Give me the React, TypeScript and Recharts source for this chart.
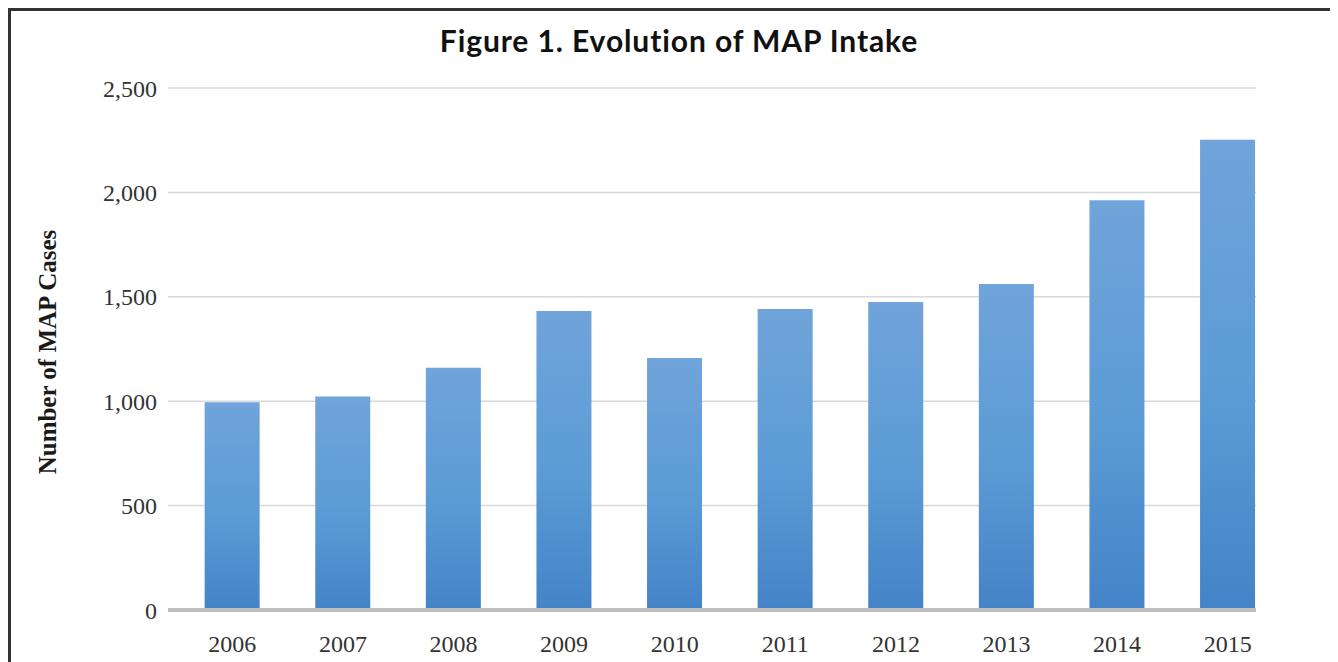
import { BarChart, Bar, XAxis, YAxis, CartesianGrid } from "recharts";

const years = ["2006", "2007", "2008", "2009", "2010", "2011", "2012", "2013", "2014", "2015"];
const mapCases = [995, 1022, 1160, 1432, 1207, 1442, 1475, 1561, 1962, 2252];
const yTicks = [0, 500, 1000, 1500, 2000, 2500];

const data = years.map((year, i) => ({ year, cases: mapCases[i] }));

const serif = "'Liberation Serif', 'DejaVu Serif', serif";

// rotated y axis title, drawn inside the svg
const AxisTitle = ({ viewBox }: any) => {
  const cy = viewBox.y + viewBox.height / 2 + 3;
  return (
    <text
      x={39}
      y={cy}
      transform={`rotate(-90, 39, ${cy})`}
      textAnchor="middle"
      dominantBaseline="central"
      fontFamily={serif}
      fontWeight="bold"
      fontSize={25}
      fill="#1a1a1a"
    >
      Number of MAP Cases
    </text>
  );
};

export default function App() {
  return (
    <div style={{ position: "relative", width: 1330, height: 654, overflow: "hidden" }}>
      <div
        style={{
          position: "absolute",
          left: 0,
          top: 0,
          width: 1342,
          height: 700,
          border: "3px solid #333",
          boxSizing: "border-box",
          background: "#fff",
        }}
      />
      <div
        style={{
          position: "absolute",
          left: 0,
          top: 14,
          width: 1342,
          textAlign: "center",
          fontFamily: "Lato, sans-serif",
          fontWeight: 700,
          fontSize: 30,
          letterSpacing: 0.9,
          color: "#111",
        }}
      >
        Figure 1. Evolution of MAP Intake
      </div>
      {/* plot is clipped at the right edge of the last bar, as in the source */}
      <div style={{ position: "absolute", left: 0, top: 0, width: 1248, height: 654, overflow: "hidden" }}>
        <BarChart
          width={1330}
          height={654}
          data={data}
          margin={{ top: 80, right: 82, left: 0, bottom: 0 }}
          barCategoryGap="25%"
        >
          <defs>
            <linearGradient id="barFill" x1="0" y1="0" x2="0" y2="1">
              <stop offset="0%" stopColor="#70a4da" />
              <stop offset="55%" stopColor="#5b9bd5" />
              <stop offset="100%" stopColor="#4483c7" />
            </linearGradient>
          </defs>
          <CartesianGrid vertical={false} stroke="#d9d9d9" strokeWidth={1.5} />
          <XAxis
            dataKey="year"
            height={52}
            padding={{ left: 9, right: -27 }}
            axisLine={{ stroke: "#bfbfbf", strokeWidth: 4 }}
            tickLine={false}
            tickMargin={19}
            tick={{ fill: "#333", fontSize: 24, fontFamily: serif }}
          />
          <YAxis
            width={160}
            domain={[0, 2500]}
            ticks={yTicks}
            axisLine={false}
            tickLine={false}
            tickMargin={5}
            tickFormatter={(v: number) => v.toLocaleString("en-US")}
            tick={{ fill: "#333", fontSize: 24, fontFamily: serif }}
            label={<AxisTitle />}
          />
          <Bar dataKey="cases" fill="url(#barFill)" isAnimationActive={false} />
        </BarChart>
      </div>
    </div>
  );
}
